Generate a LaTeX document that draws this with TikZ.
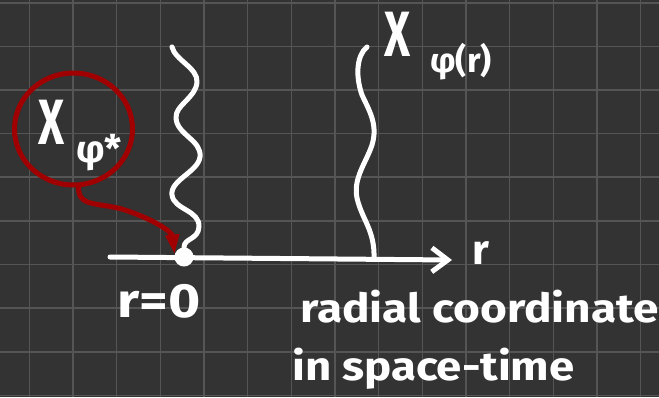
\documentclass[tikz,border=0pt]{standalone}
\usepackage{fontspec}
\setmainfont{Fira Sans}
\usetikzlibrary{arrows.meta,shapes.geometric}
\definecolor{bgc}{HTML}{333333}
\definecolor{gridc}{HTML}{555555}
\definecolor{redc}{HTML}{A00000}
\tikzset{
  ink/.style={draw=white,line width=5pt,line cap=round,line join=round},
  redink/.style={draw=redc,line width=5pt,line cap=round,line join=round},
  hand/.style={text=white,inner sep=0pt,font=\bfseries},
}
\begin{document}
\begin{tikzpicture}[x=1pt,y=-1pt]
\fill[bgc] (0,0) rectangle (659,397);
\useasboundingbox (0,0) rectangle (659,397);
% grid
\foreach \i in {0,...,14} {\draw[gridc,line width=1.6pt] ({29.3+43.67*\i},0) -- ({29.3+43.67*\i},397);}
\foreach \j in {0,...,9} {\draw[gridc,line width=1.6pt] (0,{2.7+43.63*\j}) -- (659,{2.7+43.63*\j});}
% axis
\coordinate (axl) at (110,257);
\coordinate (axr) at (452,260);
\coordinate (w1top) at (172,47);
\coordinate (w2top) at (367,47);
\coordinate (w2end) at (374,259);
\draw[ink,-{Straight Barb[length=16pt,width=24pt,line width=5pt]}] (axl) -- (axr);
\node[circle,fill=white,minimum size=19pt,inner sep=0pt] (dot) at (184,257) {};
% wavy lines
\draw[ink] (w1top) .. controls (175,60) and (198,68) .. (197,82)
  .. controls (196,98) and (175,105) .. (176,118)
  .. controls (177,135) and (202,140) .. (200,157)
  .. controls (198,172) and (170,180) .. (172,195)
  .. controls (174,210) and (200,210) .. (199,227)
  .. controls (198,240) and (184,238) .. (dot);
\draw[ink] (w2top) .. controls (357,55) and (355,75) .. (362,95)
  .. controls (370,112) and (378,125) .. (372,145)
  .. controls (366,163) and (353,178) .. (357,198)
  .. controls (362,220) and (375,230) .. (w2end);
% red circle and arrow
\node[ellipse,redink,minimum width=118pt,minimum height=112pt,inner sep=0pt] (circ) at (73.5,129) {};
\draw[redink,-{Triangle[length=20pt,width=13pt]}] (circ.-85) .. controls (78,208) and (100,202) .. (125,210)
  .. controls (155,220) and (172,232) .. (dot.165);
% labels
\node[hand,font=\fontsize{64}{70}\selectfont\bfseries] (xs) at (52,122) {\scalebox{0.7}[1]{X}};
\node[hand,font=\fontsize{38}{42}\selectfont\bfseries] (xssub) at (99,153) {φ*};
\node[hand,font=\fontsize{64}{70}\selectfont\bfseries] (xr) at (398,34) {\scalebox{0.7}[1]{X}};
\node[hand,font=\fontsize{34}{38}\selectfont\bfseries] (xrsub) at (461,62) {φ(r)};
\node[hand,font=\fontsize{42}{46}\selectfont\bfseries] (rl) at (481,253) {r};
\node[hand,font=\fontsize{48}{52}\selectfont\bfseries] (r0) at (159,301) {\scalebox{1.15}[1]{r=0}};
\node[hand,anchor=base west,font=\fontsize{40}{44}\selectfont\bfseries] (rad) at (300,322) {\scalebox{1.15}[1]{radial coordinate}};
\node[hand,anchor=base west,font=\fontsize{40}{44}\selectfont\bfseries] (spt) at (292,380) {\scalebox{1.14}[1]{in space-time}};
\end{tikzpicture}
\end{document}
